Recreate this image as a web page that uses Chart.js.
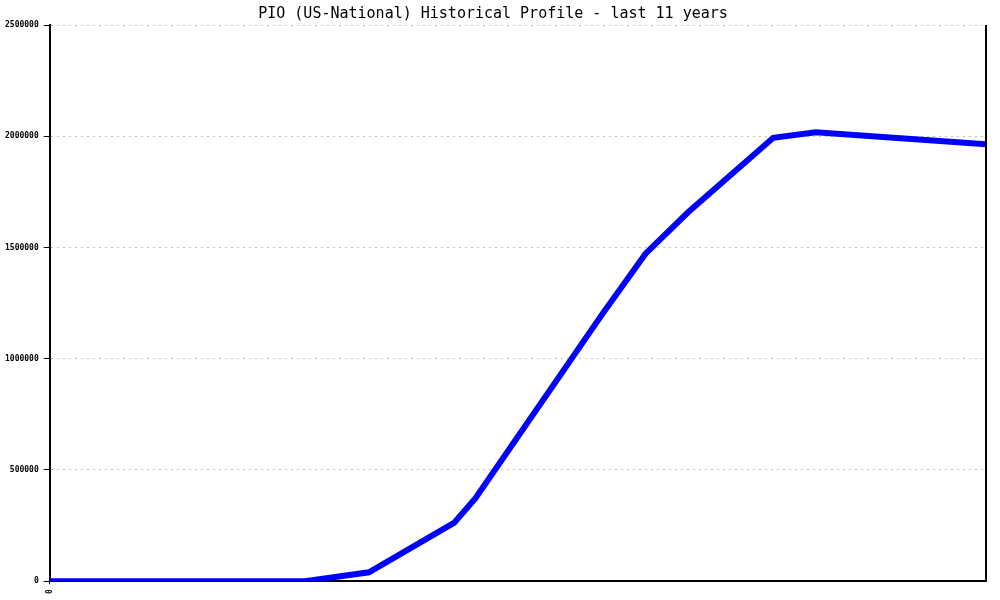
<!DOCTYPE html>
<html>
<head>
<meta charset="utf-8">
<script src="https://cdn.jsdelivr.net/npm/chart.js@4/dist/chart.umd.min.js"></script>
<style>
html,body{margin:0;padding:0;background:#fff;}
#c{display:block;}
</style>
</head>
<body>
<canvas id="c" width="1000" height="600"></canvas>
<script>
// Months since start of the 11-year window
const months = [0, 36, 45, 57, 60, 78, 84, 90, 102, 108, 132];
// PIO values
const values = [0, 0, 40000, 262000, 372000, 1205000, 1472000, 1658000, 1993000, 2018000, 1964000];
const yTicks = [0, 500000, 1000000, 1500000, 2000000, 2500000];
const xTickLabels = ['0'];
const titleText = 'PIO (US-National) Historical Profile - last 11 years';

const points = months.map((m, i) => ({x: m, y: values[i]}));

const frame = {
  id: 'frame',
  afterDraw(chart) {
    const {ctx, chartArea: a} = chart;
    ctx.save();
    ctx.setLineDash([]);
    ctx.strokeStyle = '#000';
    ctx.lineWidth = 2;
    ctx.beginPath();
    ctx.moveTo(a.right, a.top);
    ctx.lineTo(a.right, a.bottom);
    ctx.stroke();
    ctx.restore();
  }
};

new Chart(document.getElementById('c'), {
  type: 'line',
  data: {
    datasets: [{
      data: points,
      borderColor: '#0000ff',
      borderWidth: 6,
      pointRadius: 0,
      tension: 0,
      fill: false
    }]
  },
  options: {
    responsive: false,
    animation: false,
    layout: {padding: {left: 0, right: 14, top: 0, bottom: 1}},
    plugins: {
      legend: {display: false},
      tooltip: {enabled: false},
      title: {
        display: true,
        text: titleText,
        color: '#000',
        font: {family: 'DejaVu Sans Mono', size: 15, weight: 'normal'},
        padding: {top: 5, bottom: 2}
      }
    },
    scales: {
      x: {
        type: 'linear',
        min: 0,
        max: 132,
        afterBuildTicks(axis) { axis.ticks = xTickLabels.map(l => ({value: Number(l)})); },
        ticks: {
          color: '#000',
          maxRotation: 90,
          minRotation: 90,
          padding: 5,
          font: {family: 'DejaVu Sans Mono', size: 8, weight: 'bold'},
          callback: v => String(v)
        },
        grid: {drawOnChartArea: false, color: '#000', tickLength: 3},
        border: {display: true, color: '#000', width: 2}
      },
      y: {
        min: 0,
        max: 2500000,
        afterBuildTicks(axis) { axis.ticks = yTicks.map(v => ({value: v})); },
        ticks: {
          color: '#000',
          padding: 5,
          font: {family: 'DejaVu Sans Mono', size: 8, weight: 'bold'},
          callback: v => String(v)
        },
        grid: {
          color: '#c0c0c0',
          tickColor: '#000',
          tickBorderDash: [],
          tickLength: 6,
          tickWidth: 1
        },
        border: {display: true, color: '#000', width: 2, dash: [2, 4]}
      }
    }
  },
  plugins: [frame]
});
</script>
</body>
</html>
